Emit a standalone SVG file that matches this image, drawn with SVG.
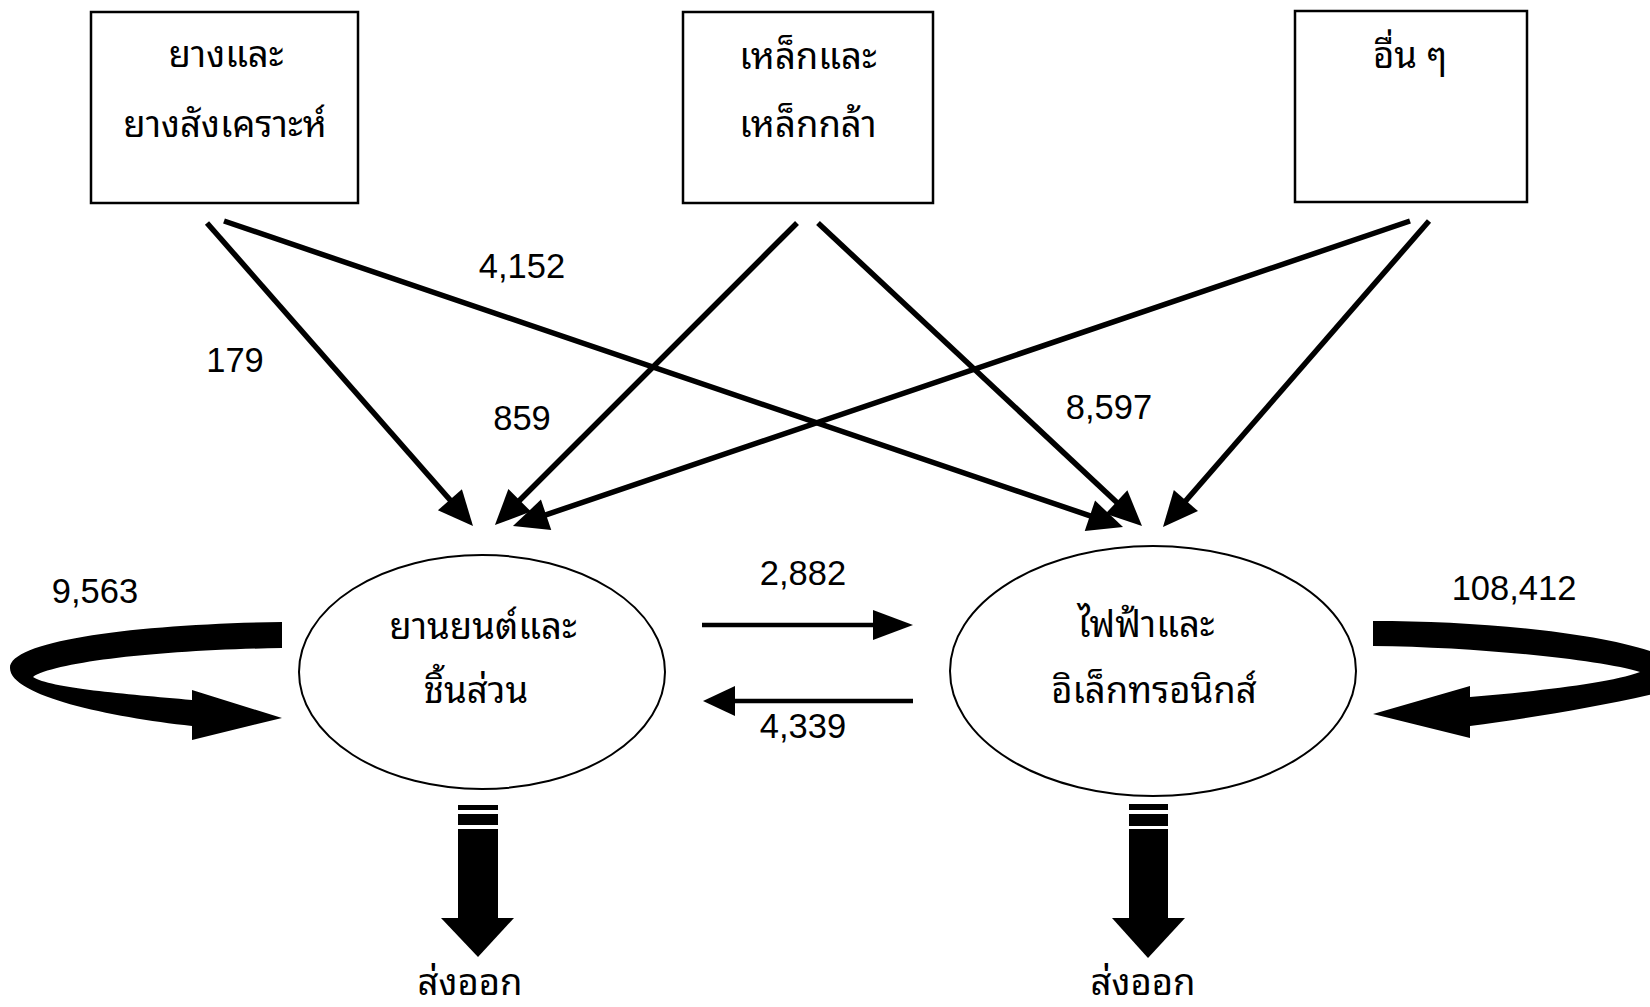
<svg xmlns="http://www.w3.org/2000/svg" width="1650" height="1007" viewBox="0 0 1650 1007">
  <style>
    .box { fill: #fff; stroke: #000; stroke-width: 2.5; }
    .ell { fill: #fff; stroke: #000; stroke-width: 2; }
    .th { font-family: "Noto Sans Thai Looped", "Noto Sans Thai", "Noto Serif Thai", "Noto Sans", sans-serif; font-size: 36.5px; fill: #000; text-anchor: middle; }
    .num { font-family: "Liberation Sans", Arial, sans-serif; font-size: 34.5px; fill: #000; text-anchor: middle; }
    .edge { stroke: #000; stroke-width: 5.5; fill: none; }
    .hedge { stroke: #000; stroke-width: 4.5; fill: none; }
    .solid { fill: #000; stroke: none; }
  </style>
  <defs>
    <!-- slanted flow arrowhead: tip sits 20 units past the line end -->
    <marker id="ah" markerUnits="userSpaceOnUse" markerWidth="35" markerHeight="32" refX="15" refY="16" orient="auto" overflow="visible">
      <path d="M0,0 L35,16 L0,32 Z" fill="#000"/>
    </marker>
    <!-- horizontal exchange arrowheads -->
    <marker id="ahLong" markerUnits="userSpaceOnUse" markerWidth="40" markerHeight="30" refX="8" refY="15" orient="auto" overflow="visible">
      <path d="M0,0 L40,15 L0,30 Z" fill="#000"/>
    </marker>
    <marker id="ahShort" markerUnits="userSpaceOnUse" markerWidth="32" markerHeight="30" refX="8" refY="15" orient="auto" overflow="visible">
      <path d="M0,0 L32,15 L0,30 Z" fill="#000"/>
    </marker>
  </defs>

  <rect width="1650" height="1007" fill="#fff"/>

  <!-- source boxes -->
  <g id="rubber">
    <rect class="box" x="91" y="12" width="267" height="191"/>
    <text class="th" x="226" y="67">ยางและ</text>
    <text class="th" x="225" y="137">ยางสังเคราะห์</text>
  </g>
  <g id="steel">
    <rect class="box" x="683" y="12" width="250" height="191"/>
    <text class="th" x="808" y="69">เหล็กและ</text>
    <text class="th" x="808" y="137">เหล็กกล้า</text>
  </g>
  <g id="others">
    <rect class="box" x="1295" y="11" width="232" height="191"/>
    <text class="th" x="1410" y="68">อื่น ๆ</text>
  </g>

  <!-- industry nodes -->
  <g id="automotive">
    <ellipse class="ell" cx="482" cy="672" rx="183" ry="117"/>
    <text class="th" x="483" y="639">ยานยนต์และ</text>
    <text class="th" x="476" y="703">ชิ้นส่วน</text>
  </g>
  <g id="electronics">
    <ellipse class="ell" cx="1153" cy="671" rx="203" ry="125"/>
    <text class="th" x="1146" y="637">ไฟฟ้าและ</text>
    <text class="th" x="1154" y="703">อิเล็กทรอนิกส์</text>
  </g>

  <!-- flows between nodes -->
  <g id="connectors">
    <line class="edge" x1="207" y1="223" x2="459.8" y2="511.0" marker-end="url(#ah)"/>
    <line class="edge" x1="224" y1="221" x2="1104.1" y2="520.6" marker-end="url(#ah)"/>
    <line class="edge" x1="797" y1="223" x2="509.1" y2="510.9" marker-end="url(#ah)"/>
    <line class="edge" x1="818" y1="223" x2="1127.4" y2="512.3" marker-end="url(#ah)"/>
    <line class="edge" x1="1410" y1="221" x2="531.9" y2="519.6" marker-end="url(#ah)"/>
    <line class="edge" x1="1429" y1="221" x2="1176.1" y2="511.9" marker-end="url(#ah)"/>

    <line class="hedge" x1="702" y1="625" x2="881" y2="625" marker-end="url(#ahLong)"/>
    <line class="hedge" x1="913" y1="701" x2="727" y2="701" marker-end="url(#ahShort)"/>

    <!-- self loops -->
    <path class="solid" d="M282,622 C140,624 10,640 10,668 C10,696 110,717 192,726 L192,740 L282,718 L192,690 L192,700 C125,694 50,688 33,677 C55,662 160,650 282,648 Z"/>
    <path class="solid" d="M1373,621 C1480,621 1600,632 1662,655 L1662,692 C1600,707 1530,718 1470,726 L1470,738 L1373,714 L1470,686 L1470,697 C1540,691 1610,683 1640,672 C1600,660 1480,647 1373,646 Z"/>

    <!-- export arrows -->
    <rect class="solid" x="458" y="805" width="40" height="5"/>
    <rect class="solid" x="458" y="814" width="40" height="11"/>
    <rect class="solid" x="458" y="829" width="40" height="90"/>
    <polygon class="solid" points="441,918 514,918 478,957"/>

    <rect class="solid" x="1129" y="804" width="39" height="6"/>
    <rect class="solid" x="1129" y="814" width="39" height="12"/>
    <rect class="solid" x="1129" y="829" width="39" height="90"/>
    <polygon class="solid" points="1112,918 1185,918 1148,958"/>
  </g>

  <!-- flow values -->
  <g id="labels">
    <text class="num" x="235" y="372">179</text>
    <text class="num" x="522" y="278">4,152</text>
    <text class="num" x="522" y="430">859</text>
    <text class="num" x="1109" y="419">8,597</text>
    <text class="num" x="95" y="603">9,563</text>
    <text class="num" x="1514" y="600">108,412</text>
    <text class="num" x="803" y="585">2,882</text>
    <text class="num" x="803" y="738">4,339</text>
    <text class="th" x="470" y="995">ส่งออก</text>
    <text class="th" x="1143" y="995">ส่งออก</text>
  </g>
</svg>
